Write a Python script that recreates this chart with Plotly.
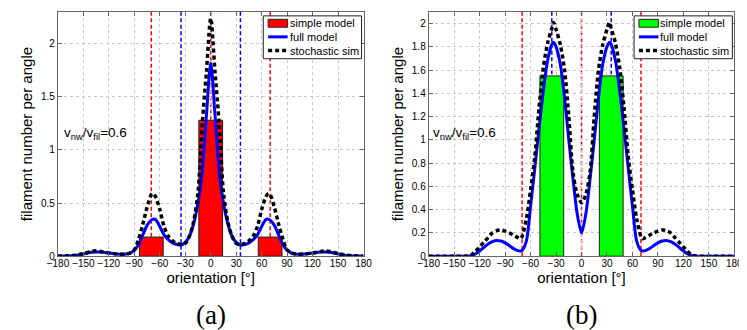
import plotly.graph_objects as go

# ---------------- data: panel (a) ----------------
bar_a_x = [-70, 0, 70]
bar_a_y = [0.18, 1.28, 0.18]
bar_width = 28

full_a_x = [-180, -175, -170, -165, -160, -155, -150, -145, -140, -135, -130, -125, -120, -115, -110,
            -105, -100, -95, -90, -85, -80, -75, -70, -67, -65, -60, -55, -50, -45, -40, -35, -30,
            -25, -20, -15, -10, -5, 0, 5, 10, 15, 20, 25, 30, 35, 40, 45, 50, 55, 60, 65, 67, 70,
            75, 80, 85, 90, 95, 100, 105, 110, 115, 120, 125, 130, 135, 140, 145, 150, 155, 160,
            165, 170, 175, 180]
full_a_y = [0.0, 0.001, 0.002, 0.004, 0.007, 0.012, 0.02, 0.03, 0.037, 0.04, 0.04, 0.035, 0.03, 0.025, 0.02,
            0.018, 0.02, 0.03, 0.055, 0.11, 0.20, 0.29, 0.34, 0.35, 0.345, 0.28, 0.20, 0.155, 0.125, 0.11, 0.105, 0.13,
            0.19, 0.31, 0.50, 0.80, 1.33, 1.82, 1.33, 0.80, 0.50, 0.31, 0.19, 0.13, 0.105, 0.11, 0.125, 0.155, 0.20, 0.28, 0.345, 0.35, 0.34,
            0.29, 0.20, 0.11, 0.055, 0.03, 0.02, 0.018, 0.02, 0.025, 0.03, 0.035, 0.04, 0.04, 0.037, 0.03, 0.02, 0.012, 0.007,
            0.004, 0.002, 0.001, 0.0]

stoch_a_x = [-180, -170, -160, -150, -140, -135, -130, -120, -110, -100, -95, -90, -85, -80, -75, -70, -68,
             -65, -60, -55, -50, -45, -40, -35, -30, -25, -20, -15, -10, -5, 0, 5, 10, 15, 20, 25, 30, 35,
             40, 45, 50, 55, 60, 65, 68, 70, 75, 80, 85, 90, 95, 100, 110, 120, 130, 135, 140, 150, 160,
             170, 180]
stoch_a_y = [0.0, 0.003, 0.01, 0.025, 0.045, 0.05, 0.045, 0.03, 0.02, 0.02, 0.03, 0.06, 0.16, 0.30, 0.46, 0.58, 0.59,
             0.56, 0.44, 0.28, 0.19, 0.145, 0.12, 0.11, 0.12, 0.19, 0.33, 0.60, 1.24, 1.74, 2.24, 1.74, 1.24, 0.60, 0.33, 0.19, 0.12, 0.11,
             0.12, 0.145, 0.19, 0.28, 0.44, 0.56, 0.59, 0.58, 0.46, 0.30, 0.16, 0.06, 0.03, 0.02, 0.02, 0.03, 0.045, 0.05, 0.045, 0.025, 0.01,
             0.003, 0.0]

red_lines_a = [-70, 0, 70]
blue_lines_a = [-35, 35]

# ---------------- data: panel (b) ----------------
bar_b_x = [-35, 35]
bar_b_y = [1.55, 1.55]

full_b_x = [-180, -170, -160, -150, -140, -135, -130, -125, -120, -115, -110, -105, -100, -95, -90, -85,
            -80, -75, -72, -70, -65, -60, -55, -50, -45, -40, -35, -33, -30, -25, -20, -15, -10, -5, 0,
            5, 10, 15, 20, 25, 30, 33, 35, 40, 45, 50, 55, 60, 65, 70, 72, 75, 80, 85, 90, 95, 100, 105,
            110, 115, 120, 125, 130, 135, 140, 150, 160, 170, 180]
full_b_y = [0.0, 0.0, 0.0, 0.0, 0.0, 0.0, 0.005, 0.02, 0.045, 0.075, 0.105, 0.125, 0.135, 0.13, 0.115, 0.09,
            0.065, 0.048, 0.045, 0.05, 0.13, 0.43, 0.76, 1.10, 1.42, 1.68, 1.82, 1.84, 1.80, 1.65, 1.36, 1.00, 0.66, 0.36, 0.20,
            0.36, 0.66, 1.00, 1.36, 1.65, 1.80, 1.84, 1.82, 1.68, 1.42, 1.10, 0.76, 0.43, 0.13, 0.05, 0.045, 0.048, 0.065, 0.09, 0.115, 0.13, 0.135, 0.125,
            0.105, 0.075, 0.045, 0.02, 0.005, 0.0, 0.0, 0.0, 0.0, 0.0, 0.0]

stoch_b_x = [-180, -170, -160, -150, -140, -135, -130, -125, -120, -115, -110, -105, -100, -95, -90, -85,
             -80, -75, -72, -70, -65, -60, -55, -50, -45, -40, -35, -33, -30, -25, -20, -15, -10, -5, 0,
             5, 10, 15, 20, 25, 30, 33, 35, 40, 45, 50, 55, 60, 65, 70, 72, 75, 80, 85, 90, 95, 100, 105,
             110, 115, 120, 125, 130, 135, 140, 150, 160, 170, 180]
stoch_b_y = [0.0, 0.0, 0.0, 0.0, 0.0, 0.002, 0.01, 0.04, 0.08, 0.12, 0.16, 0.20, 0.22, 0.225, 0.215, 0.20,
             0.18, 0.16, 0.15, 0.17, 0.32, 0.57, 0.86, 1.28, 1.62, 1.83, 1.96, 2.01, 1.95, 1.82, 1.60, 1.20, 0.72, 0.53, 0.46,
             0.53, 0.72, 1.20, 1.60, 1.82, 1.95, 2.01, 1.96, 1.83, 1.62, 1.28, 0.86, 0.57, 0.32, 0.17, 0.15, 0.16, 0.18, 0.20, 0.215, 0.225, 0.22, 0.20,
             0.16, 0.12, 0.08, 0.04, 0.01, 0.002, 0.0, 0.0, 0.0, 0.0, 0.0]

red_lines_b = [-70, 0, 70]
blue_lines_b = [-35, 35]

x_ticks = [-180, -150, -120, -90, -60, -30, 0, 30, 60, 90, 120, 150, 180]
y_ticks_a = [0, 0.5, 1, 1.5, 2]
y_ticks_b = [0, 0.2, 0.4, 0.6, 0.8, 1, 1.2, 1.4, 1.6, 1.8, 2]
legend_names = ["simple model", "full model", "stochastic sim"]

# ---------------- figure ----------------
W, H = 747, 330
FONT = "Liberation Sans, Arial, sans-serif"
fig = go.Figure()

def add_panel(xa, ya, bar_x, bar_y, bar_color, fx, fy, sx, sy):
    fig.add_trace(go.Bar(x=bar_x, y=bar_y, width=bar_width, name=legend_names[0], showlegend=False,
                         marker=dict(color=bar_color, line=dict(color="#222", width=1)),
                         xaxis=xa, yaxis=ya))
    fig.add_trace(go.Scatter(x=fx, y=fy, mode="lines", name=legend_names[1], showlegend=False,
                             line=dict(color="#0000ff", width=3, shape="spline", smoothing=0.8),
                             xaxis=xa, yaxis=ya))
    fig.add_trace(go.Scatter(x=sx, y=sy, mode="lines", name=legend_names[2], showlegend=False,
                             line=dict(color="black", width=3.5, dash="4px,3px", shape="spline", smoothing=0.8),
                             xaxis=xa, yaxis=ya))

add_panel("x", "y", bar_a_x, bar_a_y, "#ff0000", full_a_x, full_a_y, stoch_a_x, stoch_a_y)
add_panel("x2", "y2", bar_b_x, bar_b_y, "#00ff00", full_b_x, full_b_y, stoch_b_x, stoch_b_y)

shapes = []
for xr, yr, reds, blues in [("x", "y", red_lines_a, blue_lines_a), ("x2", "y2", red_lines_b, blue_lines_b)]:
    for v in reds:
        shapes.append(dict(type="line", xref=xr, yref=yr + " domain", x0=v, x1=v, y0=0, y1=1,
                           line=dict(color="#ff0000", width=1.5, dash="4px,2.5px"), layer="below"))
    for v in blues:
        shapes.append(dict(type="line", xref=xr, yref=yr + " domain", x0=v, x1=v, y0=0, y1=1,
                           line=dict(color="#0000ff", width=1.5, dash="4px,2.5px"), layer="below"))

annotations = []

# hand-built compact legends (pixel layout converted to paper coords)
def px(x):
    return x / W

def py(y):
    return 1 - y / H

for (bx0, bx1, color) in [(251, 352, "#ff0000"), (632, 733, "#00ff00")]:
    by0, by1 = 8, 51.5
    shapes.append(dict(type="rect", xref="paper", yref="paper", x0=px(bx0), x1=px(bx1), y0=py(by1), y1=py(by0),
                       fillcolor="white", line=dict(color="#222", width=1), layer="above"))
    sx0, sx1 = bx0 + 5, bx0 + 25
    rows = [15.5, 29.3, 43.2]
    shapes.append(dict(type="rect", xref="paper", yref="paper", x0=px(sx0), x1=px(sx1),
                       y0=py(rows[0] + 4), y1=py(rows[0] - 4),
                       fillcolor=color, line=dict(color="#222", width=1), layer="above"))
    shapes.append(dict(type="line", xref="paper", yref="paper", x0=px(sx0), x1=px(sx1),
                       y0=py(rows[1]), y1=py(rows[1]), line=dict(color="#0000ff", width=3), layer="above"))
    shapes.append(dict(type="line", xref="paper", yref="paper", x0=px(sx0), x1=px(sx1 + 1),
                       y0=py(rows[2]), y1=py(rows[2]), line=dict(color="black", width=3.5, dash="4px,3px"),
                       layer="above"))
    for name, ry in zip(legend_names, rows):
        annotations.append(dict(text=name, xref="paper", yref="paper", x=px(bx0 + 26), y=py(ry),
                                xanchor="left", yanchor="middle", showarrow=False,
                                font=dict(size=11), borderpad=0))

axis_common = dict(showline=True, linecolor="#666", linewidth=1, mirror="ticks",
                   ticks="inside", ticklen=4, tickcolor="#666",
                   showgrid=True, gridcolor="#c8c8c8", griddash="dot", gridwidth=1,
                   zeroline=False, tickfont=dict(family=FONT, size=10, color="black"))

annotations += [
    dict(text="v<sub>nw</sub>/v<sub>fil</sub>=0.6", xref="paper", yref="paper",
         x=px(44), y=py(127), xanchor="left", yanchor="middle", showarrow=False,
         font=dict(size=13.5)),
    dict(text="v<sub>nw</sub>/v<sub>fil</sub>=0.6", xref="paper", yref="paper",
         x=px(423), y=py(127), xanchor="left", yanchor="middle", showarrow=False,
         font=dict(size=13.5)),
    dict(text="(a)", xref="paper", yref="paper", x=px(197), y=py(312),
         xanchor="center", yanchor="middle", showarrow=False,
         font=dict(family="Liberation Serif, DejaVu Serif, serif", size=27)),
    dict(text="(b)", xref="paper", yref="paper", x=px(578), y=py(312),
         xanchor="center", yanchor="middle", showarrow=False,
         font=dict(family="Liberation Serif, DejaVu Serif, serif", size=27)),
]

ydom = [1 - 252 / H, 1 - 4 / H]
fig.update_layout(
    width=W, height=H,
    margin=dict(l=0, r=0, t=0, b=0),
    paper_bgcolor="white", plot_bgcolor="white",
    font=dict(family=FONT, color="black"),
    barmode="overlay",
    showlegend=False,
    shapes=shapes,
    annotations=annotations,
    xaxis=dict(domain=[40 / W, 354 / W], range=[-180, 180], tickvals=x_ticks, anchor="y", tickangle=0,
               ticklabelstandoff=-2,
               title=dict(text="orientation [°]", font=dict(size=15), standoff=0), **axis_common),
    yaxis=dict(domain=ydom, range=[0, 2.3], tickvals=y_ticks_a, anchor="x",
               title=dict(text="filament number per angle", font=dict(size=15), standoff=4), **axis_common),
    xaxis2=dict(domain=[421 / W, 735 / W], range=[-180, 180], tickvals=x_ticks, anchor="y2", tickangle=0,
                ticklabelstandoff=-2,
                title=dict(text="orientation [°]", font=dict(size=15), standoff=0), **axis_common),
    yaxis2=dict(domain=ydom, range=[0, 2.1], tickvals=y_ticks_b, anchor="x2",
                title=dict(text="filament number per angle", font=dict(size=15), standoff=4), **axis_common),
)

fig.write_html("out.html")
